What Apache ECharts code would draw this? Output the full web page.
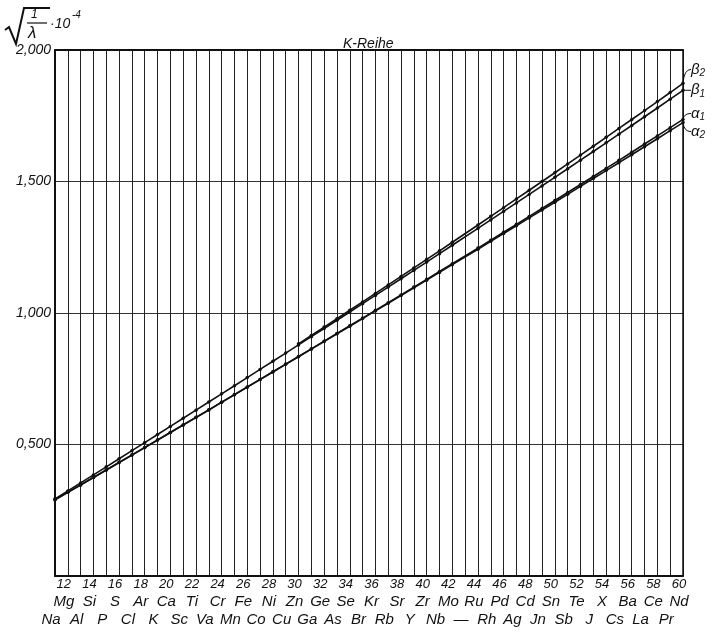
<!DOCTYPE html>
<html><head><meta charset="utf-8">
<script src="https://cdn.jsdelivr.net/npm/echarts@6/dist/echarts.min.js"></script>
<style>html,body{margin:0;padding:0;background:#fff}#c{width:716px;height:634px}</style>
</head><body><div id="c"></div>
<script>
// Atomic numbers (x axis)
const Z = [11,12,13,14,15,16,17,18,19,20,21,22,23,24,25,26,27,28,29,30,31,32,33,34,35,36,37,38,39,40,41,42,43,44,45,46,47,48,49,50,51,52,53,54,55,56,57,58,59,60];
const elements = ['Na','Mg','Al','Si','P','S','Cl','Ar','K','Ca','Sc','Ti','Va','Cr','Mn','Fe','Co','Ni','Cu','Zn','Ga','Ge','As','Se','Br','Kr','Rb','Sr','Y','Zr','Nb','Mo','—','Ru','Rh','Pd','Ag','Cd','Jn','Sn','Sb','Te','J','X','Cs','Ba','La','Ce','Pr','Nd'];
// sqrt(1/lambda)*10^-4 values
const alpha1 = [0.2898,0.3180,0.3463,0.3746,0.4031,0.4315,0.4599,0.4884,0.5170,0.5457,0.5744,0.6032,0.6318,0.6609,0.6898,0.7187,0.7476,0.7766,0.8057,0.8347,0.8638,0.8930,0.9222,0.9514,0.9806,1.0101,1.0394,1.0689,1.0984,1.1280,1.1576,1.1874,null,1.2468,1.2769,1.3070,1.3370,1.3672,1.3974,1.4277,1.4582,1.4886,1.5192,1.5499,1.5806,1.6114,1.6424,1.6734,1.7047,1.7360];
const alpha2 = [0.2898,0.3180,0.3462,0.3746,0.4030,0.4314,0.4598,0.4883,0.5168,0.5454,0.5741,0.6028,0.6314,0.6603,0.6891,0.7180,0.7468,0.7757,0.8047,0.8336,0.8626,0.8916,0.9207,0.9497,0.9787,1.0080,1.0371,1.0663,1.0957,1.1250,1.1544,1.1838,null,1.2426,1.2725,1.3021,1.3318,1.3616,1.3914,1.4213,1.4513,1.4814,1.5114,1.5414,1.5715,1.6019,1.6323,1.6625,1.6932,1.7239];
const beta1 = [0.2934,0.3235,0.3540,0.3844,0.4151,0.4458,0.4766,0.5073,0.5381,0.5689,0.5998,0.6307,0.6616,0.6926,0.7235,0.7545,0.7855,0.8165,0.8475,0.8787,0.9099,0.9411,0.9725,1.0039,1.0354,1.0669,1.0985,1.1302,1.1620,1.1937,1.2256,1.2576,null,1.3217,1.3538,1.3861,1.4185,1.4508,1.4833,1.5158,1.5484,1.5811,1.6140,1.6469,1.6800,1.7130,1.7461,1.7795,1.8131,1.8468];
const beta2 = [null,null,null,null,null,null,null,null,null,null,null,null,null,null,null,null,null,null,null,0.8827,0.9144,0.9463,0.9783,1.0103,1.0423,1.0745,1.1068,1.1390,1.1713,1.2039,1.2365,1.2691,null,1.3346,1.3676,1.4006,1.4337,1.4668,1.5001,1.5334,1.5669,1.6003,1.6341,1.6678,1.7018,1.7358,1.7697,1.8039,1.8383,1.8731];
const yTicks = [0, 0.5, 1.0, 1.5, 2.0];
const seriesNames = ['β2','β1','α1','α2'];

const FONT = 'Liberation Sans';
const chart = echarts.init(document.getElementById('c'), null, {renderer:'canvas'});
function pairs(arr){ return Z.map((z,i)=>[z, arr[i]]); }
function mk(name, arr){
  return {name:name, type:'line', xAxisIndex:0, data:pairs(arr), connectNulls:true, symbol:'circle', symbolSize:3.5,
    lineStyle:{color:'#111', width:1.6}, itemStyle:{color:'#111'}, animation:false};
}
chart.setOption({
  animation:false,
  grid:{left:55, right:33, top:50, bottom:58},
  title:{text:'K-Reihe', left:338, top:32, textStyle:{fontFamily:FONT, fontStyle:'italic', fontWeight:'normal', fontSize:14, color:'#111'}},
  xAxis:[
    {type:'value', min:Z[0], max:Z[Z.length-1], interval:1,
     axisLine:{lineStyle:{color:'#111', width:2}}, axisTick:{show:false},
     splitLine:{show:true, lineStyle:{color:'#222', width:1}}, axisLabel:{show:false}},
    {type:'category', position:'bottom', data:Z.map(String), boundaryGap:false,
     axisLine:{show:false}, axisTick:{show:false}, splitLine:{show:false},
     axisLabel:{interval:0, margin:0, padding:[0,8,0,0], fontFamily:FONT, fontStyle:'italic', color:'#111',
      formatter:function(v, idx){ const el = elements[idx]; const z = Z[idx];
        if (z%2===0) return '{n|'+z+'}\n{e|'+el+'}\n{e| }';
        return '{n| }\n{e| }\n{e|'+el+'}'; },
      rich:{n:{fontSize:13, lineHeight:17, fontStyle:'italic', fontFamily:FONT, color:'#111'},
            e:{fontSize:15, lineHeight:18, fontStyle:'italic', fontFamily:FONT, color:'#111'}}}},
    {type:'value', position:'top', min:Z[0], max:Z[Z.length-1], interval:1, axisLine:{show:true, lineStyle:{color:'#111', width:2}},
     axisTick:{show:false}, axisLabel:{show:false}, splitLine:{show:false}}],
  yAxis:[{type:'value', min:yTicks[0], max:yTicks[yTicks.length-1], interval:0.5,
    axisLine:{show:true, lineStyle:{color:'#111', width:2}}, axisTick:{show:false},
    splitLine:{show:true, lineStyle:{color:'#333', width:1}},
    axisLabel:{margin:4, fontFamily:FONT, fontStyle:'italic', fontSize:14, color:'#111',
      formatter:function(v){ return v===0 ? '' : v.toFixed(3).replace('.',','); }}},
    {type:'value', position:'right', min:0, max:2, interval:0.5, axisLine:{show:true, lineStyle:{color:'#111', width:1.5}},
     axisTick:{show:false}, axisLabel:{show:false}, splitLine:{show:false}}],
  series:[mk('β2',beta2), mk('β1',beta1), mk('α1',alpha1), mk('α2',alpha2)]
});

// Right-hand line labels with leaders, positioned from data via the axes
const ends = [beta2, beta1, alpha1, alpha2].map(a => chart.convertToPixel({xAxisIndex:0, yAxisIndex:0}, [Z[Z.length-1], a[a.length-1]]));
const labOff = [-14, 0, -6, 9];
const g = [];
const gl = ['β','β','α','α'], sub = ['2','1','1','2'];
ends.forEach((p,i)=>{
  const ly = p[1] + labOff[i];
  g.push({type:'bezierCurve', shape:{x1:p[0], y1:p[1], x2:p[0]+8, y2:ly, cpx1:p[0]+1, cpy1:ly},
    style:{stroke:'#111', lineWidth:1, fill:null}});
  g.push({type:'text', x:p[0]+8, y:ly, style:{text:'{g|'+gl[i]+'}{s|'+sub[i]+'}', verticalAlign:'middle',
    rich:{g:{fontFamily:FONT, fontStyle:'italic', fontSize:15, fill:'#111'}, s:{fontFamily:FONT, fontStyle:'italic', fontSize:10, fill:'#111', padding:[8,0,0,0]}}}});
});
// Y axis title: sqrt(1/lambda) . 10^-4
g.push({type:'polyline', shape:{points:[[5,30],[9,27],[16,44],[24,8],[50,8]]}, style:{stroke:'#111', lineWidth:2, fill:null}});
g.push({type:'text', x:31, y:9, style:{text:'1', fontFamily:FONT, fontStyle:'italic', fontSize:12, fill:'#111'}});
g.push({type:'line', shape:{x1:27, y1:23, x2:47, y2:23}, style:{stroke:'#111', lineWidth:1.2}});
g.push({type:'text', x:28, y:25, style:{text:'λ', fontFamily:FONT, fontStyle:'italic', fontSize:17, fill:'#111'}});
g.push({type:'text', x:50, y:17, style:{text:'·10', fontFamily:FONT, fontStyle:'italic', fontSize:14, fill:'#111'}});
g.push({type:'text', x:72, y:10, style:{text:'-4', fontFamily:FONT, fontStyle:'italic', fontSize:10, fill:'#111'}});
chart.setOption({graphic:g});
</script></body></html>
